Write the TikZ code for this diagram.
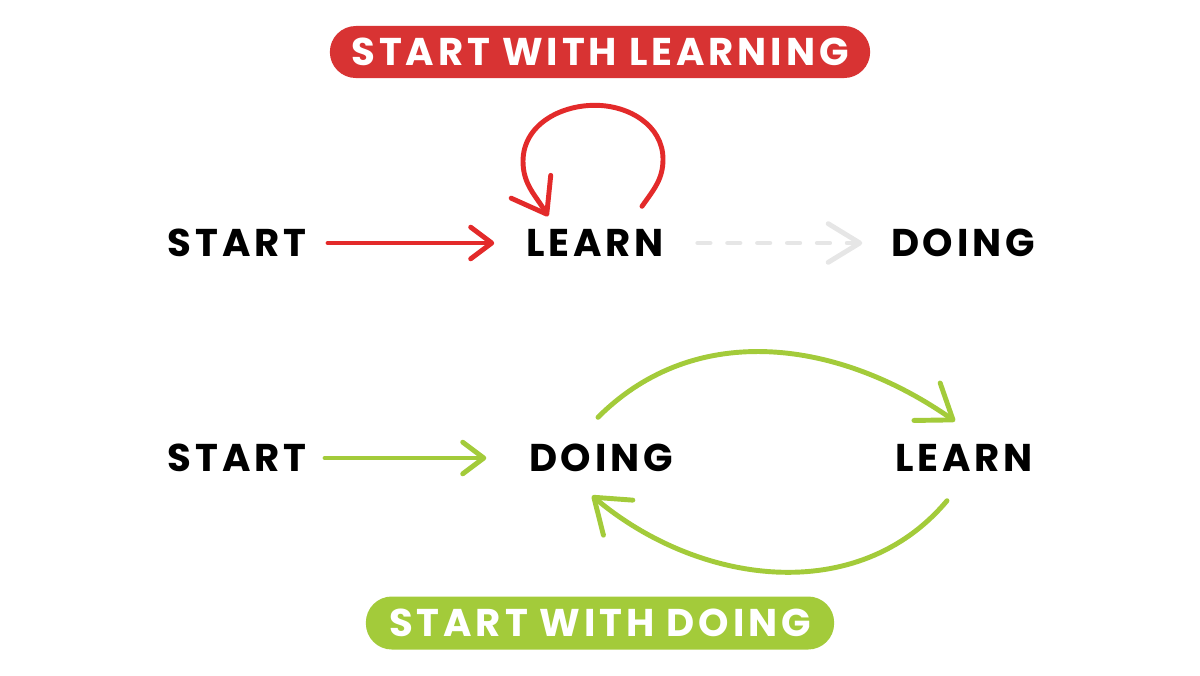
\documentclass[tikz,border=0pt]{standalone}
\usepackage{fontspec}
\setmainfont{Poppins}
\newfontfamily\handfont[LetterSpace=10]{Poppins}
\usepackage{tikz}
\usetikzlibrary{arrows.meta}
\definecolor{learnred}{HTML}{E32A2A}
\definecolor{pillred}{HTML}{D83333}
\definecolor{doinggreen}{HTML}{A3CB3A}
\definecolor{dashgray}{HTML}{E6E6E6}

\begin{document}
\begin{tikzpicture}[x=0.01cm,y=-0.01cm,
    word/.style={inner sep=0pt,minimum width=1.38cm,minimum height=0.3cm,
      font=\handfont\bfseries\fontsize{11}{11}\selectfont},
    pill/.style={rounded corners=0.26cm,minimum height=0.52cm,inner sep=0pt,
      text=white,font=\handfont\bfseries\fontsize{11}{11}\selectfont},
    flow/.style={line width=1.4pt,line cap=round,line join=round},
    small tip/.style={-{Straight Barb[length=6pt,width=9pt,round]}},
    big tip/.style={-{Straight Barb[length=9pt,width=13pt,round]}}]
      \useasboundingbox (0,0) rectangle (1200,675);
      % titles
      \node[pill,fill=pillred,minimum width=5.4cm] at (600,52) (learnpill) {START WITH LEARNING};
      \node[pill,fill=doinggreen,minimum width=4.68cm,minimum height=0.53cm] at (600,623) (doingpill) {START WITH DOING};
      % start with learning
      \node[word] at (237,243) (start1) {START};
      \node[word] at (595,243) (learn1) {LEARN};
      \node[word] at (963,243) (doing1) {DOING};
      \draw[flow,learnred,small tip,shorten <=0.21cm,shorten >=0.31cm] (start1.east) -- (learn1.west);
      \draw[flow,learnred,big tip] ([shift={(47,-21)}]learn1.north) to[out=55,in=-90] ([shift={(68,-68)}]learn1.north)
        to[out=90,in=0] ([shift={(0,-122)}]learn1.north) to[out=180,in=90] ([shift={(-72,-66)}]learn1.north)
        to[out=-90,in=120] ([shift={(-47,-11)}]learn1.north);
      \draw[flow,dashgray,-{Straight Barb[length=9pt,width=11pt,round]},dash pattern=on 3.5pt off 5pt,shorten <=0.33cm,shorten >=0.28cm] (learn1.east) -- (doing1.west);
      % start with doing
      \node[word] at (237,458) (start2) {START};
      \node[word] at (601,458) (doing2) {DOING};
      \node[word] at (964,458) (learn2) {LEARN};
      \draw[flow,doinggreen,small tip,shorten <=0.18cm,shorten >=0.42cm] (start2.east) -- (doing2.west);
      \draw[flow,doinggreen,big tip] ([shift={(-3,-25)}]doing2.north) to[out=45,in=145] ([shift={(-9,-21)}]learn2.north);
      \draw[flow,doinggreen,big tip] ([shift={(-17,27)}]learn2.south) to[out=-130,in=-40] ([shift={(-9,22)}]doing2.south);
\end{tikzpicture}
\end{document}
